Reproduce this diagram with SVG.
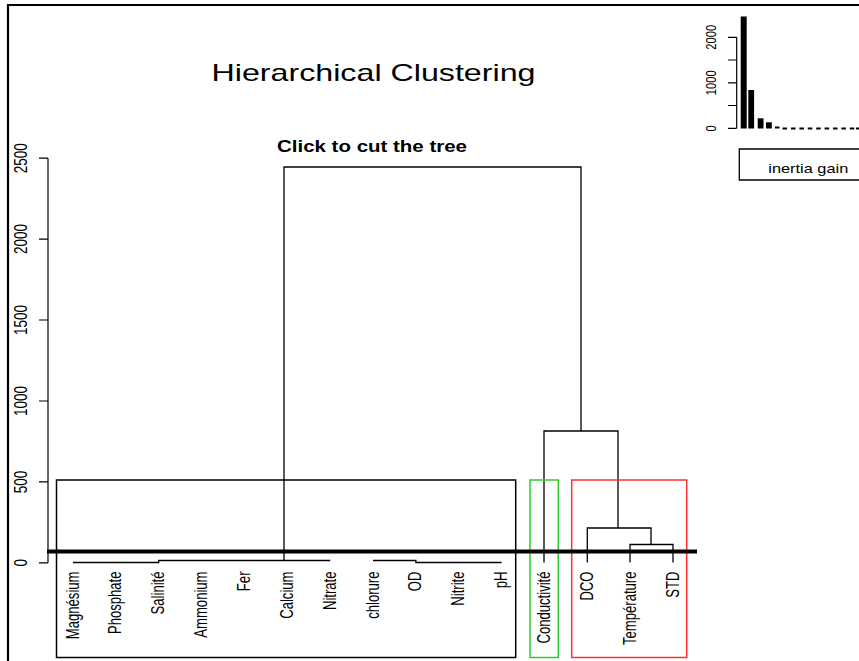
<svg xmlns="http://www.w3.org/2000/svg" width="859" height="661" viewBox="0 0 859 661">
<style>
text{font-family:"Liberation Sans",Arial,sans-serif;fill:#000}
.ln{fill:none;stroke:#000;stroke-width:1.3}
.ax{fill:none;stroke:#000;stroke-width:1.2}
.lab{font-size:13.1px;text-anchor:end}
.tick{font-size:13.5px;text-anchor:middle}
.itick{font-size:11.2px;text-anchor:middle}
.bar{fill:#000}
</style>
<rect x="0" y="0" width="859" height="661" fill="#fff"/>
<g id="frame"><path d="M8,661 V5 H859" fill="none" stroke="#000" stroke-width="2.2"/></g>
<g id="title"><text x="211.5" y="80.5" font-size="24" textLength="324" lengthAdjust="spacingAndGlyphs">Hierarchical Clustering</text></g>
<g id="subtitle"><text x="277" y="151.7" font-size="16.3" font-weight="bold" textLength="190" lengthAdjust="spacingAndGlyphs">Click to cut the tree</text></g>
<g id="yaxis">
<path class="ax" d="M48,158.2 V562.8 M39,158.2 H48 M39,239.1 H48 M39,320 H48 M39,401 H48 M39,481.9 H48 M39,562.8 H48"/>
<text class="tick" transform="translate(26.6,158.2) scale(1.3,1) rotate(-90)">2500</text>
<text class="tick" transform="translate(26.6,239.1) scale(1.3,1) rotate(-90)">2000</text>
<text class="tick" transform="translate(26.6,320) scale(1.3,1) rotate(-90)">1500</text>
<text class="tick" transform="translate(26.6,401) scale(1.3,1) rotate(-90)">1000</text>
<text class="tick" transform="translate(26.6,481.9) scale(1.3,1) rotate(-90)">500</text>
<text class="tick" transform="translate(26.6,562.8) scale(1.3,1) rotate(-90)">0</text>
</g>
<g id="connectors">
<path class="ln" d="M284,560.5 V167 H581 V431"/>
<path class="ln" d="M544,562.5 V431 H618 V528"/>
<path class="ln" d="M587.3,562.5 V528 H651 V544.5"/>
<path class="ln" d="M630,562.5 V544.5 H673 V562.5"/>
<path class="ln" d="M73,562.5 H158.7 V560.5 H330.2"/>
<path class="ln" d="M373,560.5 H415.9 V562.5 H501.6"/>
</g>
<g id="cluster-boxes">
<rect id="box-black" x="56.5" y="480" width="459.2" height="177.5" fill="none" stroke="#000" stroke-width="1.5"/>
<rect id="box-green" x="530" y="480" width="28.3" height="177.5" fill="none" stroke="#2ecc2e" stroke-width="1.5"/>
<rect id="box-red" x="571.7" y="480" width="115" height="177.5" fill="none" stroke="#ff3030" stroke-width="1.5"/>
</g>
<g id="cutline"><path d="M47,551.5 H697" stroke="#000" stroke-width="3.8"/></g>
<g id="leaves">
<text class="lab" transform="translate(78.5,571.5) scale(1.35,1) rotate(-90)">Magnésium</text>
<text class="lab" transform="translate(121.4,571.5) scale(1.35,1) rotate(-90)">Phosphate</text>
<text class="lab" transform="translate(164.2,571.5) scale(1.35,1) rotate(-90)">Salinité</text>
<text class="lab" transform="translate(207.1,571.5) scale(1.35,1) rotate(-90)">Ammonium</text>
<text class="lab" transform="translate(249.9,571.5) scale(1.35,1) rotate(-90)">Fer</text>
<text class="lab" transform="translate(292.8,571.5) scale(1.35,1) rotate(-90)">Calcium</text>
<text class="lab" transform="translate(335.7,571.5) scale(1.35,1) rotate(-90)">Nitrate</text>
<text class="lab" transform="translate(378.5,571.5) scale(1.35,1) rotate(-90)">chlorure</text>
<text class="lab" transform="translate(421.4,571.5) scale(1.35,1) rotate(-90)">OD</text>
<text class="lab" transform="translate(464.2,571.5) scale(1.35,1) rotate(-90)">Nitrite</text>
<text class="lab" transform="translate(507.1,571.5) scale(1.35,1) rotate(-90)">pH</text>
<text class="lab" transform="translate(550,571.5) scale(1.35,1) rotate(-90)">Conductivité</text>
<text class="lab" transform="translate(592.5,571.5) scale(1.35,1) rotate(-90)">DCO</text>
<text class="lab" transform="translate(635.5,571.5) scale(1.35,1) rotate(-90)">Température</text>
<text class="lab" transform="translate(678.7,571.5) scale(1.35,1) rotate(-90)">STD</text>
</g>
<g id="inertia-inset">
<path class="ax" d="M736.7,37.3 V128.3 M728,37.3 H736.7 M728,60 H736.7 M728,82.8 H736.7 M728,105.5 H736.7 M728,128.3 H736.7"/>
<text class="itick" transform="translate(716,128.3) scale(1.3,1) rotate(-90)">0</text>
<text class="itick" transform="translate(716,82.8) scale(1.3,1) rotate(-90)">1000</text>
<text class="itick" transform="translate(716,37.3) scale(1.3,1) rotate(-90)">2000</text>
<rect class="bar" x="740.7" y="16.5" width="6" height="112"/>
<rect class="bar" x="748.3" y="90" width="5.8" height="38.5"/>
<rect class="bar" x="757.7" y="118.3" width="5.8" height="10.2"/>
<rect class="bar" x="766" y="122.3" width="5.8" height="6.2"/>
<rect class="bar" x="775" y="126.5" width="4.5" height="2"/>
<rect class="bar" x="782.5" y="127.5" width="4.5" height="2"/>
<rect class="bar" x="791" y="127.5" width="4.5" height="2"/>
<rect class="bar" x="799.4" y="127.5" width="4.5" height="2"/>
<rect class="bar" x="807.8" y="127.5" width="4.5" height="2"/>
<rect class="bar" x="816.2" y="127.5" width="4.5" height="2"/>
<rect class="bar" x="824.6" y="127.5" width="4.5" height="2"/>
<rect class="bar" x="833" y="127.5" width="4.5" height="2"/>
<rect class="bar" x="841.4" y="127.5" width="4.5" height="2"/>
<rect class="bar" x="849.8" y="127.5" width="4.5" height="2"/>
<rect class="bar" x="856" y="127.5" width="3" height="2"/>
</g>
<g id="legend">
<path d="M862,149 H739.3 V180 H862" fill="none" stroke="#000" stroke-width="1.3"/>
<text x="768.3" y="173" font-size="12.6" textLength="80" lengthAdjust="spacingAndGlyphs">inertia gain</text>
</g>
</svg>
